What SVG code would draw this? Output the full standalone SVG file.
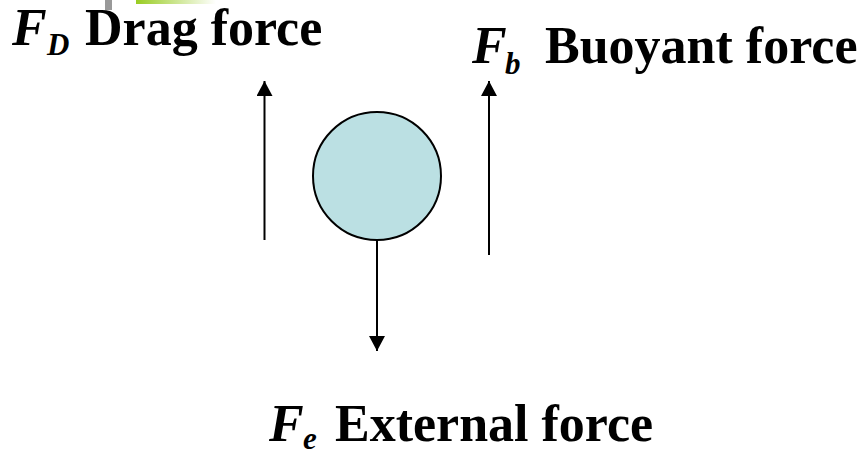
<svg xmlns="http://www.w3.org/2000/svg" width="861" height="457" viewBox="0 0 861 457">
<defs>
<linearGradient id="gbar" x1="0" y1="0" x2="1" y2="0">
<stop offset="0" stop-color="#99cc22"/>
<stop offset="1" stop-color="#ffffff"/>
</linearGradient>
<marker id="ah" markerUnits="userSpaceOnUse" markerWidth="16" markerHeight="16" viewBox="0 0 16 16" refX="15" refY="8" orient="auto">
<path d="M0,0 L15,8 L0,16 Z" fill="#000"/>
</marker>
<style>
.lbl{font-family:"Liberation Serif","Times New Roman",serif;font-weight:bold;font-size:52px;fill:#000}
.sym{font-style:italic}
.sub{font-style:italic;font-size:31px}
.arr{stroke:#000;stroke-width:2;fill:none;marker-end:url(#ah)}
</style>
</defs>
<rect width="861" height="457" fill="#fff"/>
<rect x="105" y="0" width="7" height="10" fill="#999"/>
<rect x="136" y="0" width="80" height="4" fill="url(#gbar)"/>
<g id="connectors">
<line class="arr" x1="264.5" y1="240" x2="264.5" y2="81"/>
<line class="arr" x1="489" y1="255" x2="489" y2="81"/>
<line class="arr" x1="377" y1="240" x2="377" y2="351"/>
</g>
<g id="ball">
<circle cx="377" cy="176" r="64" fill="#bbe0e3" stroke="#000" stroke-width="2"/>
</g>
<g id="drag">
<text class="lbl sym" x="12" y="45">F</text>
<text class="lbl sub" x="47" y="55">D</text>
<text class="lbl" x="85" y="45">Drag force</text>
</g>
<g id="buoyant">
<text class="lbl sym" x="472" y="63">F</text>
<text class="lbl sub" x="505" y="74">b</text>
<text class="lbl" x="545" y="63">Buoyant force</text>
</g>
<g id="external">
<text class="lbl sym" x="269" y="441">F</text>
<text class="lbl sub" x="303" y="449">e</text>
<text class="lbl" x="335" y="441">External force</text>
</g>
</svg>
